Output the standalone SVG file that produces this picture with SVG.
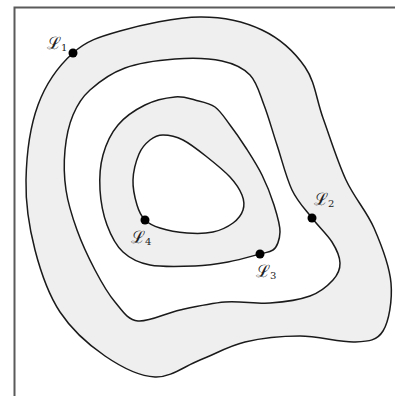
<svg xmlns="http://www.w3.org/2000/svg" width="395" height="396" viewBox="0 0 395 396">
<style>
.c{stroke:#1a1a1a;stroke-width:1.5;stroke-linejoin:round}
.g{fill:#efefef}
.w{fill:#ffffff}
.dot{fill:#000}
.lbl{font-family:"DejaVu Serif","Liberation Serif",serif;font-size:17px;fill:#222}
.sub{font-size:10px}
.frame{stroke:#5a5a5a;stroke-width:2;fill:none}
</style>
<rect width="395" height="396" fill="#fff"/>
<g id="frame"><path class="frame" d="M14.5,396 V7.5 H395"/></g>
<g id="curve-1"><path class="c g" d="M73,53 C86.7,40.7 98.8,37 120,31 C141.2,25 176.3,17.2 200,17 C223.7,16.8 244.5,21.7 262,30 C279.5,38.3 294.8,52.3 305,67 C315.2,81.7 316.2,99.2 323,118 C329.8,136.8 337.5,161.7 346,180 C354.5,198.3 366.5,210.8 374,228 C381.5,245.2 389.5,265.8 391,283 C392.5,300.2 389,321.2 383,331 C377,340.8 368.8,341.2 355,342 C341.2,342.8 318.3,336 300,336 C281.7,336 261.7,338 245,342 C228.3,346 215,354.2 200,360 C185,365.8 170.8,377.7 155,377 C139.2,376.3 120.8,366.8 105,356 C89.2,345.2 71.7,329.7 60,312 C48.3,294.3 40.7,272 35,250 C29.3,228 25.5,204.2 26,180 C26.5,155.8 30.2,126.2 38,105 C45.8,83.8 59.3,65.3 73,53 Z"/></g>
<g id="curve-2"><path class="c w" d="M90,90 C98.7,82.2 110.8,73.2 125,68 C139.2,62.8 158.8,60.2 175,59 C191.2,57.8 209.5,58.3 222,61 C234.5,63.7 243,67.7 250,75 C257,82.3 259.5,93.3 264,105 C268.5,116.7 272.3,130.8 277,145 C281.7,159.2 286.2,177.8 292,190 C297.8,202.2 305.3,209.3 312,218 C318.7,226.7 327.3,234.5 332,242 C336.7,249.5 339.8,256.7 340,263 C340.2,269.3 338,274.5 333,280 C328,285.5 320.5,292.2 310,296 C299.5,299.8 284.2,302 270,303 C255.8,304 240,300.8 225,302 C210,303.2 194.5,306.8 180,310 C165.5,313.2 148.8,322.3 138,321 C127.2,319.7 122.2,310.5 115,302 C107.8,293.5 101.3,282 95,270 C88.7,258 81.8,243.3 77,230 C72.2,216.7 68,203.3 66,190 C64,176.7 63.8,162.5 65,150 C66.2,137.5 68.8,125 73,115 C77.2,105 81.3,97.8 90,90 Z"/></g>
<g id="curve-3"><path class="c g" d="M195,100 C201.7,101.7 209.2,102.8 215,107 C220.8,111.2 224.8,118.2 230,125 C235.2,131.8 240.7,139.7 246,148 C251.3,156.3 257.3,165.5 262,175 C266.7,184.5 271,195.5 274,205 C277,214.5 280.2,224.5 280,232 C279.8,239.5 277,247.5 273,250 C269,252.5 267.5,252 260,254 C252.5,256 238.8,260 228,262 C217.2,264 208,265.5 195,266 C182,266.5 162,267.3 150,265 C138,262.7 130.2,258.7 123,252 C115.8,245.3 110.8,235.3 107,225 C103.2,214.7 100.7,201.7 100,190 C99.3,178.3 100,165.8 103,155 C106,144.2 111,133.3 118,125 C125,116.7 135.5,109.7 145,105 C154.5,100.3 166.7,97.8 175,97 C183.3,96.2 188.3,98.3 195,100 Z"/></g>
<g id="curve-4"><path class="c w" d="M163,135 C168.5,135 175.7,136.3 183,140 C190.3,143.7 199.2,150.8 207,157 C214.8,163.2 224.2,170.7 230,177 C235.8,183.3 239.8,189.5 242,195 C244.2,200.5 244.5,205.3 243,210 C241.5,214.7 238,219.3 233,223 C228,226.7 220.7,230.3 213,232 C205.3,233.7 195.8,233.7 187,233 C178.2,232.3 167,230.2 160,228 C153,225.8 148.8,223.8 145,220 C141.2,216.2 139,211.7 137,205 C135,198.3 132.7,188.5 133,180 C133.3,171.5 136.2,160.7 139,154 C141.8,147.3 146,143.2 150,140 C154,136.8 157.5,135 163,135 Z"/></g>
<g id="L1"><circle class="dot" cx="73" cy="53" r="4.5"/><text class="lbl" x="47" y="49">ℒ<tspan class="sub" dy="2">1</tspan></text></g>
<g id="L2"><circle class="dot" cx="312" cy="218" r="4.5"/><text class="lbl" x="314" y="205">ℒ<tspan class="sub" dy="2">2</tspan></text></g>
<g id="L3"><circle class="dot" cx="260" cy="254" r="4.5"/><text class="lbl" x="256" y="277">ℒ<tspan class="sub" dy="2">3</tspan></text></g>
<g id="L4"><circle class="dot" cx="145" cy="220" r="4.5"/><text class="lbl" x="131" y="243">ℒ<tspan class="sub" dy="2">4</tspan></text></g>
</svg>
